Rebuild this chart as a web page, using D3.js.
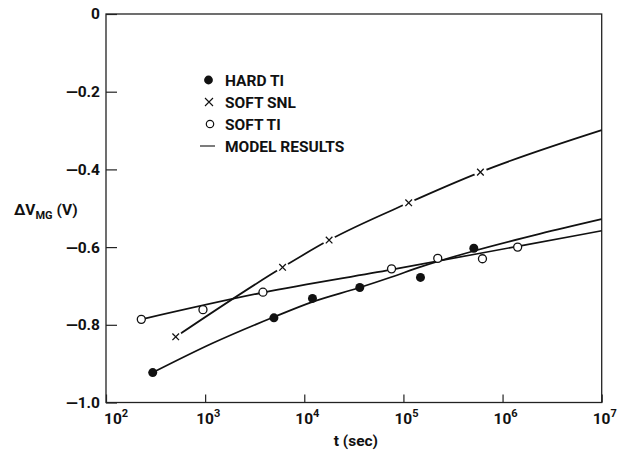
<!DOCTYPE html>
<html><head><meta charset="utf-8">
<script src="https://cdn.jsdelivr.net/npm/d3@7"></script>
<style>
html,body{margin:0;padding:0;background:#fff;}
text{font-family:Roboto,"Liberation Sans",sans-serif;font-weight:bold;fill:#111;}
</style></head>
<body>
<svg id="chart" width="618" height="451"></svg>
<script>
// ---- data ----
const hardT = [296, 4940, 12100, 36300, 148600, 513000];
const hardV = [-0.923, -0.782, -0.732, -0.704, -0.678, -0.603];
const snlT = [505, 6040, 17800, 113000, 598000];
const snlV = [-0.831, -0.652, -0.582, -0.486, -0.407];
const softT = [227, 951, 3830, 75900, 222000, 627000, 1420000];
const softV = [-0.786, -0.761, -0.716, -0.656, -0.629, -0.630, -0.600];

const hardModelT = [296, 1199, 4940, 12100, 36300, 75900, 148600, 513000, 2370000, 1e7];
const hardModelV = [-0.923, -0.847, -0.780, -0.741, -0.704, -0.677, -0.651, -0.610, -0.566, -0.528];
const snlModelT = [505, 6040, 17800, 113000, 598000, 1e7];
const snlModelV = [-0.831, -0.652, -0.582, -0.486, -0.407, -0.299];
const softModelT = [227, 3830, 75900, 1420000, 1e7];
const softModelV = [-0.786, -0.717, -0.658, -0.598, -0.558];

const xExponents = [2, 3, 4, 5, 6, 7];
const yTicks = [0, -0.2, -0.4, -0.6, -0.8, -1.0];
const legendLabels = ["HARD TI", "SOFT SNL", "SOFT TI", "MODEL RESULTS"];
const xTitle = "t (sec)";

// ---- layout ----
const L = 106, R = 601.7, T = 14, B = 402.5;
const svg = d3.select("#chart");
const x = d3.scaleLog().domain([1e2, 1e7]).range([L, R]);
const y = d3.scaleLinear().domain([-1, 0]).range([B, T]);

const zip = (a, b) => a.map((d, i) => [d, b[i]]);

// frame
svg.append("rect").attr("x", L).attr("y", T).attr("width", R - L).attr("height", B - T)
  .attr("fill", "none").attr("stroke", "#222").attr("stroke-width", 1.3);

// y axis
const yAxis = d3.axisLeft(y).tickValues(yTicks).tickSize(-11).tickPadding(6)
  .tickFormat(v => v === 0 ? "0" : "\u2014" + Math.abs(v).toFixed(1));
const gy = svg.append("g").attr("transform", `translate(${L},0)`).call(yAxis);
gy.select(".domain").remove();
gy.selectAll(".tick line").attr("stroke", "#222").attr("stroke-width", 1.2);
gy.selectAll(".tick text").style("font-size", "15.5px").attr("fill", "#111");

// x axis
const xAxis = d3.axisBottom(x).tickValues(xExponents.map(e => Math.pow(10, e))).tickSize(-8).tickFormat("");
const gx = svg.append("g").attr("transform", `translate(0,${B})`).call(xAxis);
gx.select(".domain").remove();
gx.selectAll(".tick line").attr("stroke", "#222").attr("stroke-width", 1.2);

// x tick labels 10^n
const xl = svg.append("g").selectAll("text").data(xExponents).join("text")
  .attr("x", (e, i) => x(Math.pow(10, e)) + (i === 0 ? -2 : -9))
  .attr("y", 423.5)
  .style("font-size", "15.5px");
xl.append("tspan").text("10");
xl.append("tspan").attr("dy", -7).style("font-size", "11px").text(e => e);

// axis titles
svg.append("text").attr("x", (L + R) / 2 + 2).attr("y", 446).attr("text-anchor", "middle")
  .style("font-size", "15.5px").text(xTitle);
const yt = svg.append("text").attr("x", 14).attr("y", 215).style("font-size", "15.5px");
yt.append("tspan").text("\u0394V");
yt.append("tspan").attr("dy", 4).style("font-size", "11px").text("MG");
yt.append("tspan").attr("dy", -4).text(" (V)");

// model lines
const line = d3.line().x(d => x(d[0])).y(d => y(d[1])).curve(d3.curveMonotoneX);
[[hardModelT, hardModelV], [snlModelT, snlModelV], [softModelT, softModelV]].forEach(([t, v]) => {
  svg.append("path").attr("d", line(zip(t, v))).attr("fill", "none")
    .attr("stroke", "#111").attr("stroke-width", 1.7);
});

// markers
const snl = zip(snlT, snlV);
svg.append("g").selectAll("circle").data(snl).join("circle")
  .attr("cx", d => x(d[0])).attr("cy", d => y(d[1])).attr("r", 6.5).attr("fill", "#fff");
const crossPath = s => `M${-s},${-s}L${s},${s}M${-s},${s}L${s},${-s}`;
svg.append("g").selectAll("path").data(snl).join("path")
  .attr("transform", d => `translate(${x(d[0])},${y(d[1])})`)
  .attr("d", crossPath(3.3)).attr("stroke", "#111").attr("stroke-width", 1.3).attr("fill", "none");

svg.append("g").selectAll("circle").data(zip(softT, softV)).join("circle")
  .attr("cx", d => x(d[0])).attr("cy", d => y(d[1])).attr("r", 4)
  .attr("fill", "#fff").attr("stroke", "#111").attr("stroke-width", 1.3);

svg.append("g").selectAll("circle").data(zip(hardT, hardV)).join("circle")
  .attr("cx", d => x(d[0])).attr("cy", d => y(d[1])).attr("r", 4.5).attr("fill", "#111");

// legend
const lg = svg.append("g");
const rowY = i => 80 + i * 22;
lg.append("circle").attr("cx", 208.5).attr("cy", rowY(0)).attr("r", 4.4).attr("fill", "#111");
lg.append("path").attr("transform", `translate(209,${rowY(1)})`).attr("d", crossPath(4))
  .attr("stroke", "#111").attr("stroke-width", 1.1).attr("fill", "none");
lg.append("circle").attr("cx", 210).attr("cy", rowY(2)).attr("r", 3.7).attr("fill", "#fff")
  .attr("stroke", "#111").attr("stroke-width", 1.2);
lg.append("line").attr("x1", 200).attr("x2", 215).attr("y1", rowY(3)).attr("y2", rowY(3))
  .attr("stroke", "#111").attr("stroke-width", 1.1);
lg.selectAll("text.lab").data(legendLabels).join("text").attr("class", "lab")
  .attr("x", 225).attr("y", (d, i) => rowY(i) + 5.5)
  .style("font-size", "15.5px").text(d => d);
</script>
</body></html>
